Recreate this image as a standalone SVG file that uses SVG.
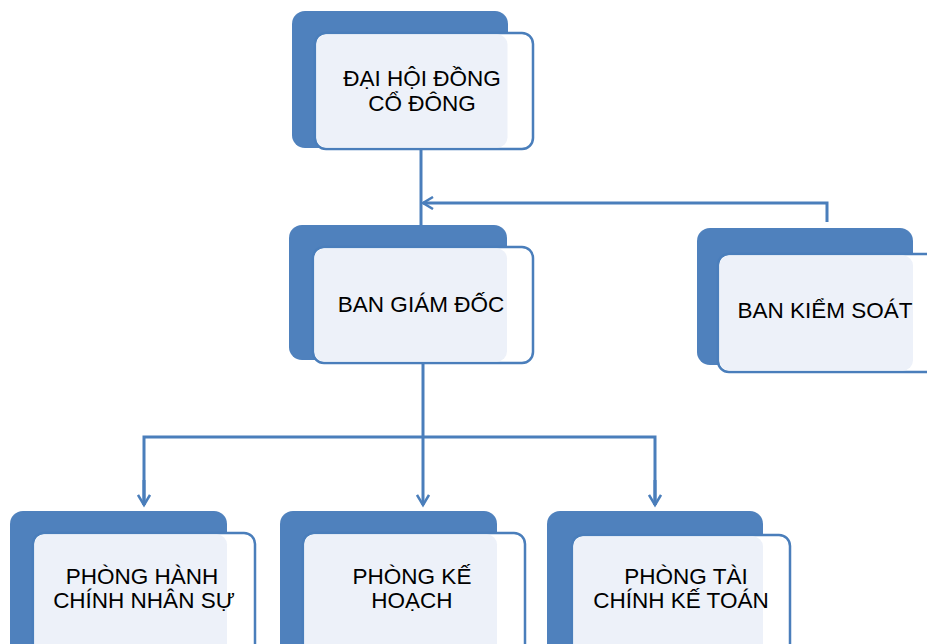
<svg xmlns="http://www.w3.org/2000/svg" width="927" height="644" viewBox="0 0 927 644">
<style>
.back{fill:#4F81BD}
.front{fill:#FFFFFF;stroke:#4A7EBB;stroke-width:2.5}
.tint{fill:#EDF1F9}
.lbl{font-family:"Liberation Sans",Arial,sans-serif;font-size:22.5px;fill:#000;text-anchor:middle;white-space:pre}
.conn{fill:none;stroke:#4A7EBB;stroke-width:3}
</style>
<defs>
<marker id="arr" markerWidth="14" markerHeight="14" refX="11" refY="7" orient="auto" markerUnits="userSpaceOnUse">
<path d="M1,1 L11,7 L1,13" fill="none" stroke="#4A7EBB" stroke-width="2.5"/>
</marker>
</defs>
<rect width="927" height="644" fill="#FFFFFF"/>
<g id="connectors">
<path class="conn" d="M421,150 V225"/>
<path class="conn" d="M827,222 V203 H423" marker-end="url(#arr)"/>
<path class="conn" d="M423,363 V505" marker-end="url(#arr)"/>
<path class="conn" d="M144,505 V437 H655 V505" />
<path class="conn" d="M144,480 V505" marker-end="url(#arr)"/>
<path class="conn" d="M655,480 V505" marker-end="url(#arr)"/>
</g>
<g id="node-dhdcd">
<rect class="back" x="292" y="11" width="216" height="137" rx="13"/>
<rect class="front" x="315" y="33" width="218" height="116" rx="11"/>
<rect class="tint" x="316.5" y="34.5" width="191" height="113" rx="10"/>
<text class="lbl" x="422" y="86">ĐẠI HỘI ĐỒNG</text>
<text class="lbl" x="422" y="111">CỔ ĐÔNG</text>
</g>
<g id="node-bgd">
<rect class="back" x="289" y="225" width="218" height="135" rx="13"/>
<rect class="front" x="313" y="247" width="220" height="116" rx="11"/>
<rect class="tint" x="314.5" y="248.5" width="192.5" height="113" rx="10"/>
<text class="lbl" x="421" y="312">BAN GIÁM ĐỐC</text>
</g>
<g id="node-bks">
<rect class="back" x="697" y="228" width="216" height="137" rx="13"/>
<rect class="front" x="718" y="254" width="222" height="118" rx="11"/>
<rect class="tint" x="719.5" y="255.5" width="193.5" height="115" rx="10"/>
<text class="lbl" x="825" y="318">BAN KIỂM SOÁT</text>
</g>
<g id="node-hcns">
<rect class="back" x="10" y="511" width="217" height="150" rx="13"/>
<rect class="front" x="33" y="533" width="222" height="130" rx="11"/>
<rect class="tint" x="34.5" y="534.5" width="192.5" height="127" rx="10"/>
<text class="lbl" x="142" y="584">PHÒNG HÀNH</text>
<text class="lbl" x="144" y="608">CHÍNH NHÂN SỰ</text>
</g>
<g id="node-kh">
<rect class="back" x="280" y="511" width="217" height="150" rx="13"/>
<rect class="front" x="303" y="533" width="222" height="130" rx="11"/>
<rect class="tint" x="304.5" y="534.5" width="192.5" height="127" rx="10"/>
<text class="lbl" x="412" y="584">PHÒNG KẾ</text>
<text class="lbl" x="412" y="608">HOẠCH</text>
</g>
<g id="node-tckt">
<rect class="back" x="547" y="511" width="216" height="150" rx="13"/>
<rect class="front" x="572" y="535" width="218" height="130" rx="11"/>
<rect class="tint" x="573.5" y="536.5" width="189.5" height="127" rx="10"/>
<text class="lbl" x="686" y="584">PHÒNG TÀI</text>
<text class="lbl" x="681" y="608">CHÍNH KẾ TOÁN</text>
</g>
</svg>
